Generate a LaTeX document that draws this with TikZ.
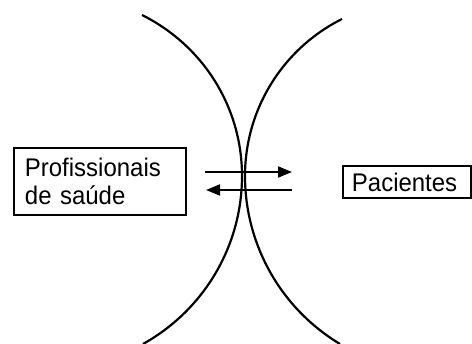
\documentclass[tikz,border=0pt]{standalone}
\usepackage{fontspec}
\setmainfont{Liberation Sans}
\newfontfamily\boxfont[FakeStretch=0.94]{Liberation Sans}
\usetikzlibrary{arrows.meta}
\begin{document}
\begin{tikzpicture}[x=1pt,y=-1pt,
  curve/.style={line width=2.2pt},
  box/.style={draw, line width=1.9pt, inner ysep=0pt, anchor=north west, align=left},
  flow/.style={line width=2.1pt, -{Triangle[length=14pt,width=11pt]}},
  lbl/.style={font=\boxfont\fontsize{25.5}{28}\selectfont}
]
\useasboundingbox (0,0) rectangle (472,344);
% boxes
\node[box, lbl, minimum width=172pt, minimum height=67pt, text width=150pt, inner xsep=11pt] (prof) at (13,147) {Profissionais\\de saúde};
\node[box, lbl, minimum width=128pt, minimum height=32pt, text width=110pt, inner xsep=8pt] (pac) at (342,165) {Pacientes};
% curves
\draw[curve] (142,15) .. controls (204,46) and (242,108) .. (242,176)
             .. controls (242,246) and (204,310) .. (143,344);
\draw[curve] (342,19) .. controls (282.5,48.8) and (245,109.5) .. (245,176)
             .. controls (245,244.8) and (281,308.6) .. (340,344);
% arrows
\coordinate (a1s) at (205,172);
\coordinate (a1e) at (292,172);
\coordinate (a2s) at (292,190);
\coordinate (a2e) at (206,190);
\draw[flow] (a1s) -- (a1e);
\draw[flow] (a2s) -- (a2e);
\end{tikzpicture}
\end{document}
